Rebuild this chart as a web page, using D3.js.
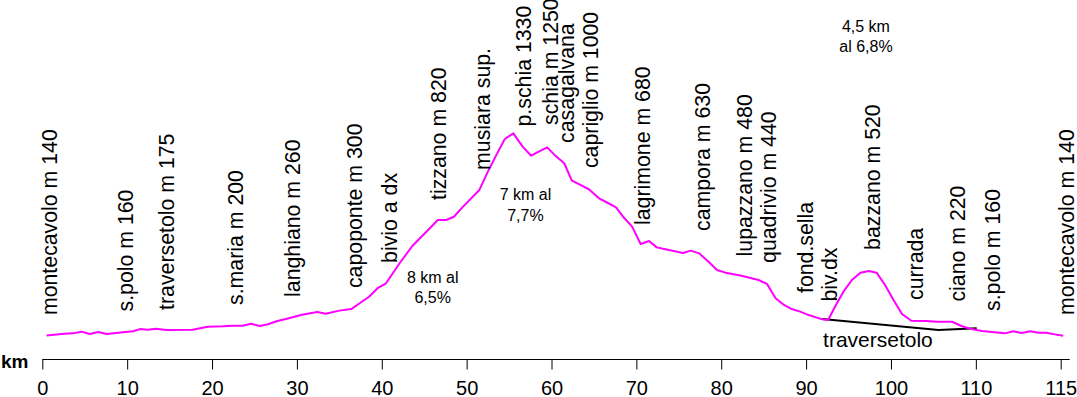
<!DOCTYPE html>
<html>
<head>
<meta charset="utf-8">
<script src="https://cdn.jsdelivr.net/npm/d3@7"></script>
<style>
  body { margin: 0; background: #fff; }
  svg { display: block; }
</style>
</head>
<body>
<script>
const width = 1077, height = 397;

// ===============================================================
// Data
// positions along the axis (axis units, the 13 ticks are 10 apart)
const profileKm = [
  0.5, 2.6, 3.6, 4.6, 5.6, 6.6, 7.6, 9.5, 10.7, 11.5, 12.4, 13.4, 14.6, 17.7, 18.3, 19.5,
  21.3, 22.4, 23.6, 24.6, 25.6, 26.6, 27.6, 28.7, 30.6, 32.4, 33.4, 35.0, 36.4, 37.4, 38.5,
  39.5, 40.5, 42.1, 43.6, 45.2, 46.6, 47.6, 48.5, 49.5, 51.5, 52.6, 53.6, 54.5, 55.5, 56.6,
  57.6, 58.5, 59.5, 60.5, 61.5, 62.4, 63.4, 64.4, 65.6, 66.6, 67.6, 68.5, 69.5, 70.5, 71.5,
  72.4, 73.4, 74.4, 75.5, 76.4, 77.4, 78.5, 79.5, 80.5, 82.4, 84.4, 85.4, 86.4, 87.4, 88.3,
  89.3, 90.3, 91.9, 92.6, 93.4, 94.4, 95.4, 96.4, 97.4, 98.3, 99.3, 100.3, 101.3, 102.4,
  104.2, 105.4, 107.2, 108.3, 109.5, 110.7, 111.9, 113.4, 114.4, 115.4, 116.4, 117.4, 118.3,
  119.3, 120.3
];
// elevation, metres
const profileElev = [
  138, 148, 150, 160, 146, 158, 146, 156, 162, 175, 171, 177, 170, 171, 177, 189,
  191, 195, 195, 206, 193, 203, 221, 234, 259, 275, 265, 283, 292, 326, 364,
  414, 443, 560, 661, 741, 813, 813, 832, 887, 989, 1106, 1203, 1287, 1320, 1242,
  1189, 1213, 1238, 1187, 1145, 1043, 1018, 993, 940, 914, 887, 829, 774, 673, 690,
  653, 642, 632, 620, 634, 618, 569, 521, 505, 487, 462, 439, 355, 316, 292,
  277, 257, 232, 228, 306, 394, 462, 505, 515, 505, 433, 345, 263, 224,
  222, 218, 218, 193, 175, 164, 158, 150, 162, 152, 162, 154, 154,
  144, 136
];

// short cut through traversetolo
const shortcutKm = [91.9, 105.6, 110.1];
const shortcutElev = [234, 170, 180];

// x axis tick labels (equally spaced)
const tickLabels = ["0", "10", "20", "30", "40", "50", "60", "70", "80", "90", "100", "110", "115"];

// place names: where the (vertical) label sits, km along axis and the elevation of its foot
const placeNames = [
  "montecavolo m 140", "s.polo m 160", "traversetolo m 175", "s.maria m 200", "langhiano m 260",
  "capoponte m 300", "bivio a dx", "tizzano m 820", "musiara sup.", "p.schia 1330",
  "schia m 1250", "casagalvana", "capriglio m 1000", "lagrimone m 680", "campora m 630",
  "lupazzano m 480", "quadrivio m 440", "fond.sella", "biv.dx", "bazzano m 520",
  "currada", "ciano m 220", "s.polo m 160", "montecavolo m 140"
];
const placeKm = [
  0.85, 9.74, 14.63, 22.76, 29.48, 36.79, 40.91, 46.68, 51.81, 56.70,
  59.82, 61.71, 64.53, 70.66, 77.73, 82.74, 85.57, 89.87, 92.70, 97.76,
  102.83, 107.77, 111.90, 120.62
];
const placeFootElev = [
  257, 278, 287, 316, 363, 415, 562, 930, 1106, 1360,
  1369, 1264, 1117, 784, 749, 600, 562, 386, 336, 638,
  345, 336, 281, 257
];

// climb notes
const climbLines = [["8 km al", "6,5%"], ["7 km al", "7,7%"], ["4,5 km", "al 6,8%"]];
const climbKm = [46.0, 56.93, 97.05];
const climbElev = [445, 930, 1913];

// ===============================================================
const font = "'Liberation Sans', Arial, sans-serif";
const line_color = "#ff00ff";

const svg = d3.select("body").append("svg")
  .attr("width", width)
  .attr("height", height)
  .style("background", "#fff");

const x0 = 42.3, x1 = 1060.7, y_base = 359;

const x = d3.scaleLinear().domain([0, 120]).range([x0, x1]);
const y = d3.scaleLinear().domain([0, 2100]).range([y_base, 0]);
const xTicks = d3.scalePoint().domain(tickLabels).range([x0, x1]);

// ===============================================================
// Axis
const axis_g = svg.append("g")
  .attr("transform", `translate(0, ${y_base + 0.5})`)
  .call(d3.axisBottom(xTicks).tickSize(10).tickSizeOuter(0));

axis_g.select(".domain").remove();
axis_g.append("line")
  .attr("x1", x0).attr("x2", x1 + 9)
  .attr("stroke", "#000");
axis_g.selectAll(".tick line").attr("stroke", "#000");
axis_g.selectAll(".tick text")
  .attr("y", 35)
  .attr("dy", 0)
  .attr("fill", "#000")
  .style("font-family", font)
  .style("font-size", "20px");

svg.append("text")
  .attr("x", 1)
  .attr("y", 368)
  .style("font-family", font)
  .style("font-size", "19px")
  .style("font-weight", "bold")
  .text("km");

// ===============================================================
// Profile
const profile = profileKm.map((k, i) => ({km: k, elev: profileElev[i]}));
const shortcut = shortcutKm.map((k, i) => ({km: k, elev: shortcutElev[i]}));

const line = d3.line().x(d => x(d.km)).y(d => y(d.elev));

svg.append("path")
  .attr("d", line(shortcut))
  .attr("fill", "none")
  .attr("stroke", "#000")
  .attr("stroke-width", 2);

svg.append("path")
  .attr("d", line(profile))
  .attr("fill", "none")
  .attr("stroke", line_color)
  .attr("stroke-width", 2)
  .attr("stroke-linejoin", "round");

svg.append("text")
  .attr("x", x(92.0))
  .attr("y", y(70))
  .style("font-family", font)
  .style("font-size", "21px")
  .text("traversetolo");

// ===============================================================
// Place names, vertical
svg.append("g")
  .selectAll("text")
  .data(placeNames)
  .join("text")
  .attr("transform", (d, i) => `translate(${x(placeKm[i])}, ${y(placeFootElev[i])}) rotate(-90)`)
  .attr("dy", "0.36em")
  .style("font-family", font)
  .style("font-size", "21.3px")
  .text(d => d);

// ===============================================================
// Climb notes
climbLines.forEach((lines, i) => {
  const t = svg.append("text")
    .attr("text-anchor", "middle")
    .style("font-family", font)
    .style("font-size", "16px");
  lines.forEach((txt, j) => {
    t.append("tspan")
      .attr("x", x(climbKm[i]))
      .attr("y", y(climbElev[i]) + j * 20.5)
      .text(txt);
  });
});
</script>
</body>
</html>
